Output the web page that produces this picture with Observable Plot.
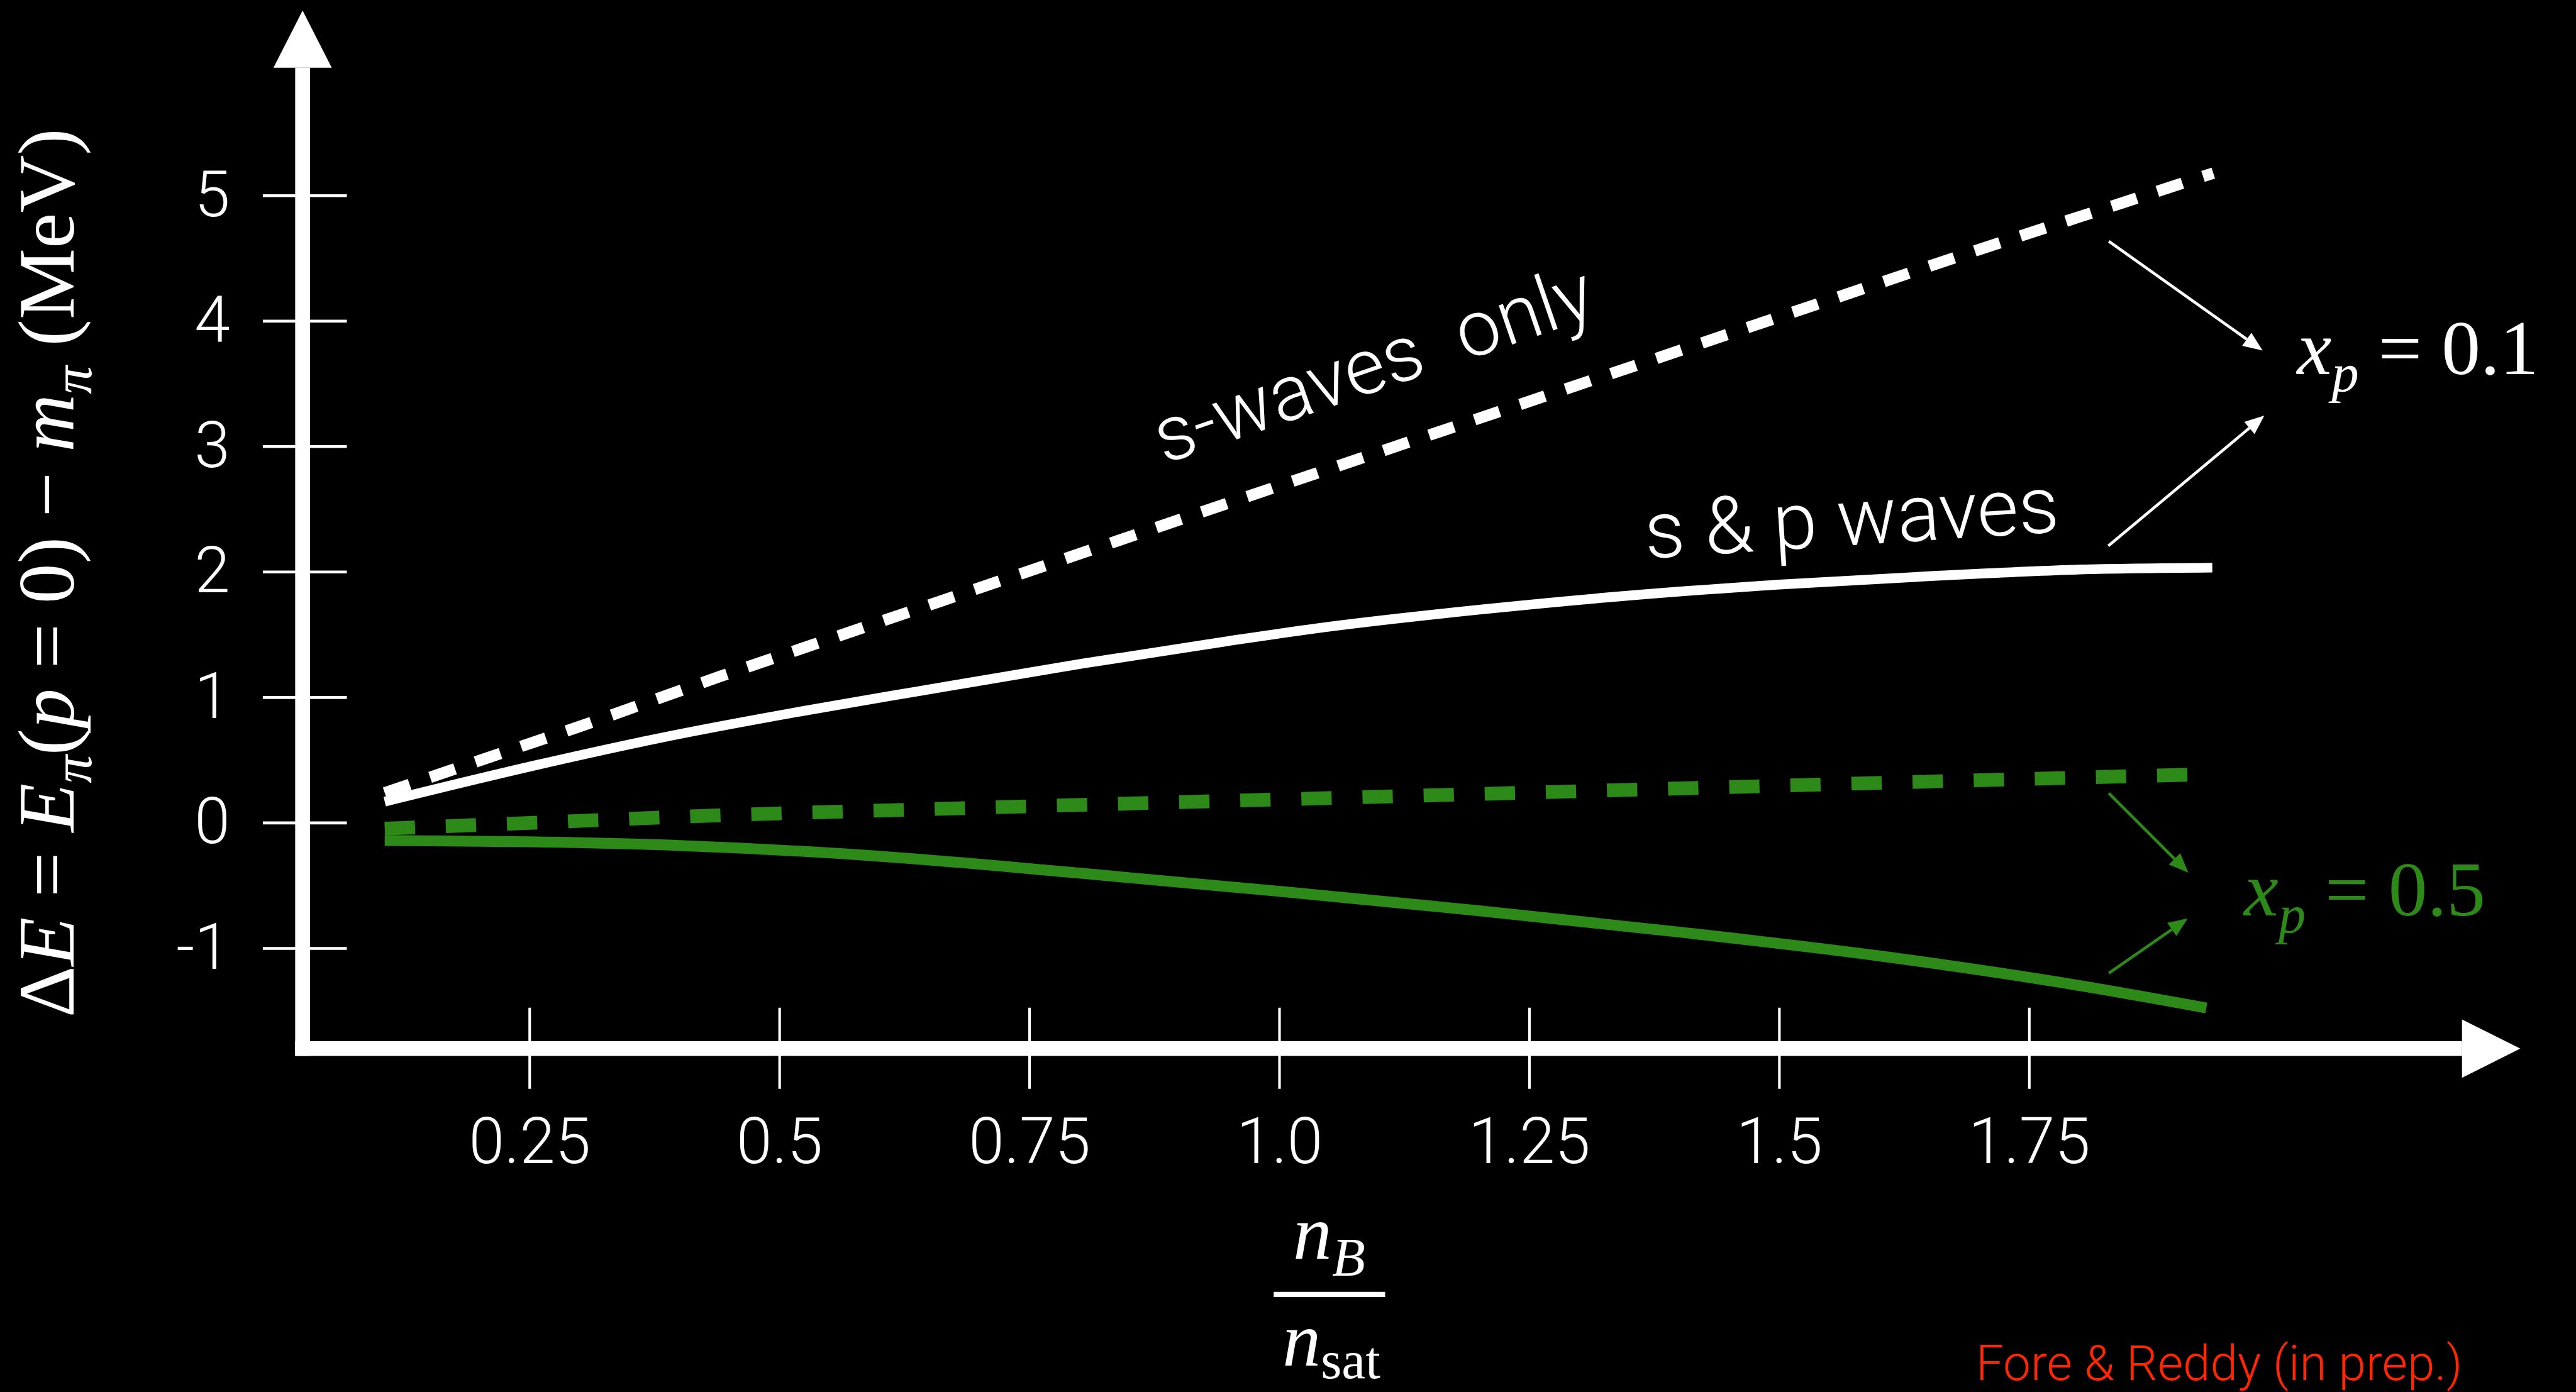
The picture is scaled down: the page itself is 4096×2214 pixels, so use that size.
<!DOCTYPE html>
<html>
<head>
<meta charset="utf-8">
<script src="https://cdn.jsdelivr.net/npm/d3@7"></script>
<script src="https://cdn.jsdelivr.net/npm/@observablehq/plot@0.6"></script>
<style>
  html, body { margin: 0; padding: 0; background: #000; overflow: hidden; }
  #chart svg { display: block; }
</style>
</head>
<body>
<div id="chart"></div>
<script>
// ---------------- data ----------------
const xTicks = [0.25, 0.5, 0.75, 1.0, 1.25, 1.5, 1.75];
const xTickLabels = ["0.25", "0.5", "0.75", "1.0", "1.25", "1.5", "1.75"];
const yTicks = [-1, 0, 1, 2, 3, 4, 5];
const yTickLabels = ["-1", "0", "1", "2", "3", "4", "5"];

// x_p = 0.1, s-waves only (white dashed)
const sOnly01X = [0.105, 0.302, 0.441, 0.809, 0.945, 1.688, 1.934];
const sOnly01Y = [0.24, 0.774, 1.17, 2.17, 2.54, 4.54, 5.18];
// x_p = 0.1, s & p waves (white solid)
const sp01X = [0.105, 0.256, 0.376, 0.529, 0.639, 0.803, 0.949, 1.036, 1.2, 1.346, 1.5, 1.657, 1.8, 1.933];
const sp01Y = [0.17, 0.46, 0.67, 0.90, 1.05, 1.27, 1.45, 1.55, 1.70, 1.81, 1.90, 1.97, 2.02, 2.035];
// x_p = 0.5, s-waves only (green dashed)
const sOnly05X = [0.105, 0.25, 0.42, 0.65, 0.91, 1.15, 1.4, 1.65, 1.936];
const sOnly05Y = [-0.045, 0.0, 0.055, 0.11, 0.168, 0.22, 0.275, 0.33, 0.39];
// x_p = 0.5, s & p waves (green solid)
const sp05X = [0.105, 0.25, 0.4, 0.6, 0.8, 1.0, 1.2, 1.4, 1.6, 1.78, 1.927];
const sp05Y = [-0.14, -0.15, -0.18, -0.265, -0.40, -0.545, -0.70, -0.87, -1.06, -1.27, -1.475];

const curveLabels = ["s-waves  only", "s & p waves"];
const caption = "Fore & Reddy (in prep.)";

// ---------------- layout ----------------
const W = 4096, H = 2214;
const K = W / 4508;               // reference px -> page px
const P = v => v * K;
const GREEN = "#2e8a18";
const SANS = "Roboto, 'Helvetica Neue', Helvetica, Arial, sans-serif";
const SERIF = "'Liberation Serif', 'Times New Roman', Times, serif";

const xDomain = [0, 2], yDomain = [0, 5];
const xRange = [P(489), P(489 + 1749.6 * 2)];
const yRange = [P(1440), P(1440 - 219.6 * 5)];
const xs = d3.scaleLinear().domain(xDomain).range(xRange);
const ys = d3.scaleLinear().domain(yDomain).range(yRange);
const ix = px => xs.invert(P(px));   // reference px -> data
const iy = py => ys.invert(P(py));

const rows = (X, Y) => X.map((x, i) => ({x, y: Y[i]}));

// arrow helper: tip & base in reference px -> triangle vertices in data coords
function tri(id, tx, ty, bx, by, half) {
  const dx = tx - bx, dy = ty - by, L = Math.hypot(dx, dy);
  const nx = -dy / L, ny = dx / L;
  return [
    {id, x: ix(tx), y: iy(ty)},
    {id, x: ix(bx + nx * half), y: iy(by + ny * half)},
    {id, x: ix(bx - nx * half), y: iy(by - ny * half)}
  ];
}
function annotArrow(id, sx, sy, tx, ty, len, half) {
  const dx = tx - sx, dy = ty - sy, L = Math.hypot(dx, dy);
  const bx = tx - dx / L * len, by = ty - dy / L * len;
  return {
    shaft: {x1: ix(sx), y1: iy(sy), x2: ix(bx), y2: iy(by)},
    head: tri(id, tx, ty, bx, by, half)
  };
}

// axes (reference px)
const axisY = {x: 529, top: 118, bottom: 1848, tip: 18, half: 51};
const axisX = {y: 1835, left: 516, right: 4308, tip: 4410, half: 51};
const axisHeads = [
  ...tri("ay", axisY.x, axisY.tip, axisY.x, axisY.top, axisY.half),
  ...tri("ax", axisX.tip, axisX.y, axisX.right, axisX.y, axisX.half)
];

const whiteArrows = [
  annotArrow("w1", 3690, 422, 3959, 613, 34, 14),
  annotArrow("w2", 3689, 955, 3962, 727, 34, 14)
];
const greenArrows = [
  annotArrow("g1", 3690, 1388, 3829, 1527, 34, 14),
  annotArrow("g2", 3690, 1703, 3828, 1607, 34, 14)
];

const chart = Plot.plot({
  width: W,
  height: H,
  margin: 0,
  x: {domain: xDomain, range: xRange, axis: null},
  y: {domain: yDomain, range: yRange, axis: null},
  style: {background: "#000", color: "#fff", fontFamily: SANS, overflow: "visible"},
  marks: [
    // axes
    Plot.link([0], {x1: ix(axisY.x), x2: ix(axisY.x), y1: iy(axisY.bottom), y2: iy(axisY.top),
      stroke: "#fff", strokeWidth: P(26), strokeLinecap: "butt"}),
    Plot.link([0], {x1: ix(axisX.left), x2: ix(axisX.right), y1: iy(axisX.y), y2: iy(axisX.y),
      stroke: "#fff", strokeWidth: P(26), strokeLinecap: "butt"}),
    Plot.line(axisHeads, {x: "x", y: "y", z: "id", fill: "#fff", stroke: null}),
    // ticks
    Plot.ruleY(yTicks, {y: d => d, x1: ix(460), x2: ix(607), stroke: "#fff", strokeWidth: P(5)}),
    Plot.ruleX(xTicks, {x: d => d, y1: iy(1764), y2: iy(1906), stroke: "#fff", strokeWidth: P(4.5)}),
    Plot.text(yTicks, {x: ix(402), y: d => d, text: (d, i) => yTickLabels[i], textAnchor: "end",
      lineAnchor: "middle", fill: "#fff", fontSize: P(112), fontWeight: 300, fontFamily: SANS}),
    Plot.text(xTicks, {x: d => d, y: iy(2036), text: (d, i) => xTickLabels[i], textAnchor: "middle",
      lineAnchor: "bottom", fill: "#fff", fontSize: P(112), fontWeight: 300, fontFamily: SANS}),
    // curves
    Plot.line(rows(sp05X, sp05Y), {x: "x", y: "y", stroke: GREEN, strokeWidth: P(19),
      curve: "monotone-x", strokeLinecap: "butt"}),
    Plot.line(rows(sOnly05X, sOnly05Y), {x: "x", y: "y", stroke: GREEN, strokeWidth: P(24),
      curve: "monotone-x", strokeLinecap: "butt", strokeDasharray: `${P(53)} ${P(54)}`}),
    Plot.line(rows(sp01X, sp01Y), {x: "x", y: "y", stroke: "#fff", strokeWidth: P(17),
      curve: "monotone-x", strokeLinecap: "butt"}),
    Plot.line(rows(sOnly01X, sOnly01Y), {x: "x", y: "y", stroke: "#fff", strokeWidth: P(20),
      curve: "linear", strokeLinecap: "butt", strokeDasharray: `${P(46)} ${P(38)}`}),
    // curve labels
    Plot.text([curveLabels[0]], {x: ix(2037), y: iy(812), text: d => d, rotate: -19,
      textAnchor: "start", lineAnchor: "bottom", fill: "#fff", fontSize: P(137), fontWeight: 300, fontFamily: SANS}),
    Plot.text([curveLabels[1]], {x: ix(2880), y: iy(977), text: d => d, rotate: -3.7,
      textAnchor: "start", lineAnchor: "bottom", fill: "#fff", fontSize: P(140), fontWeight: 300, fontFamily: SANS}),
    // annotation arrows
    Plot.link(whiteArrows.map(a => a.shaft), {x1: "x1", y1: "y1", x2: "x2", y2: "y2", stroke: "#fff", strokeWidth: P(5)}),
    Plot.line(whiteArrows.flatMap(a => a.head), {x: "x", y: "y", z: "id", fill: "#fff", stroke: null}),
    Plot.link(greenArrows.map(a => a.shaft), {x1: "x1", y1: "y1", x2: "x2", y2: "y2", stroke: GREEN, strokeWidth: P(5)}),
    Plot.line(greenArrows.flatMap(a => a.head), {x: "x", y: "y", z: "id", fill: GREEN, stroke: null})
  ]
});

document.getElementById("chart").append(chart);

// ---------------- math labels (real text with tspans) ----------------
const svg = d3.select(chart);

function mathText(parent, x, y, parts, opts = {}) {
  const t = parent.append("text")
    .attr("x", x).attr("y", y)
    .attr("font-family", SERIF)
    .attr("font-size", opts.size)
    .attr("fill", opts.fill || "#fff")
    .attr("text-anchor", opts.anchor || "start");
  if (opts.transform) t.attr("transform", opts.transform);
  const subShift = opts.subShift == null ? 0.22 : opts.subShift;
  let shift = 0;
  for (const p of parts) {
    const s = t.append("tspan").text(p.t);
    if (p.i) s.attr("font-style", "italic");
    const target = p.sub ? opts.size * subShift : 0;
    if (p.sub) s.attr("font-size", opts.size * 0.7);
    if (target !== shift) { s.attr("dy", target - shift); shift = target; }
  }
  return t;
}

// y-axis title (rotated)
mathText(svg, 0, 0, [
  {t: "Δ"}, {t: "E", i: true}, {t: " = "}, {t: "E", i: true}, {t: "π", i: true, sub: true},
  {t: "("}, {t: "p", i: true}, {t: " = 0) − "}, {t: "m", i: true}, {t: "π", i: true, sub: true},
  {t: " (MeV)"}
], {size: P(140), anchor: "middle", transform: `translate(${P(129)},${P(1003)}) rotate(-90)`});

// x-axis title as a fraction
mathText(svg, P(2326), P(2203), [{t: "n", i: true}, {t: "B", i: true, sub: true}],
  {size: P(136), anchor: "middle"});
svg.append("line")
  .attr("x1", P(2229)).attr("x2", P(2424))
  .attr("y1", P(2266)).attr("y2", P(2266))
  .attr("stroke", "#fff").attr("stroke-width", P(9));
mathText(svg, P(2330), P(2390), [{t: "n", i: true}, {t: "sat", sub: true}],
  {size: P(134), anchor: "middle", subShift: 0.17});

// x_p labels
mathText(svg, P(4020), P(655), [{t: "x", i: true}, {t: "p", i: true, sub: true}, {t: " = 0.1"}],
  {size: P(136)});
mathText(svg, P(3927), P(1602), [{t: "x", i: true}, {t: "p", i: true, sub: true}, {t: " = 0.5"}],
  {size: P(136), fill: GREEN});

// caption
svg.append("text")
  .attr("x", P(3458)).attr("y", P(2416))
  .attr("text-anchor", "start")
  .attr("font-family", SANS).attr("font-weight", 300)
  .attr("font-size", P(86)).attr("fill", "#ff2600")
  .text(caption);
</script>
</body>
</html>
